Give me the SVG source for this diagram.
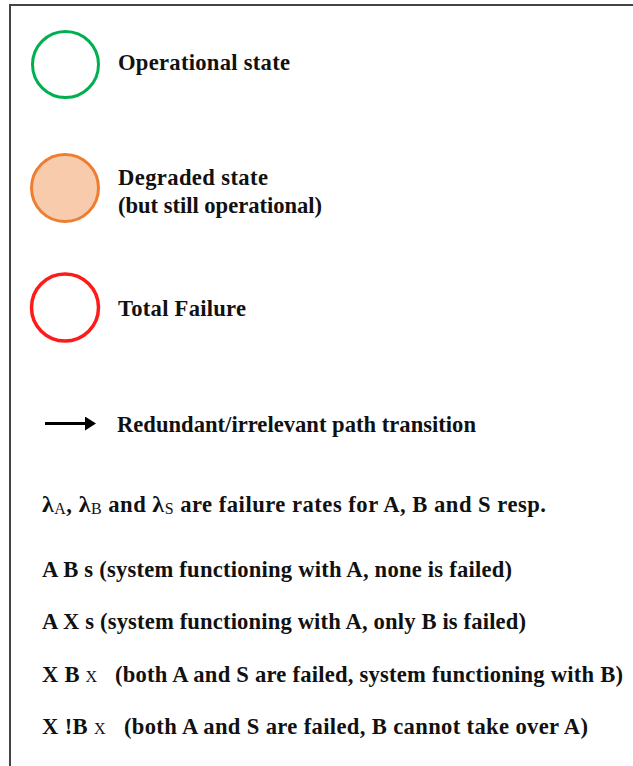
<svg xmlns="http://www.w3.org/2000/svg" width="633" height="766" viewBox="0 0 633 766">
  <style>
    .frame { fill: none; stroke: #444444; stroke-width: 2; }
    .state { stroke-width: 3; }
    .op { fill: #ffffff; stroke: #00B050; }
    .deg { fill: #F8CBAD; stroke: #ED7D31; }
    .fail { fill: #ffffff; stroke: #FF1A1A; stroke-width: 3.5; }
    .lbl { font-family: "Liberation Serif", "Times New Roman", serif; font-weight: bold; font-size: 22.6px; fill: #111111; }
    .sub { font-weight: normal; font-size: 16px; }
    .lam { font-size: 24px; }
  </style>
  <defs>
    <marker id="arrowHead" markerWidth="11" markerHeight="14" refX="9" refY="7" orient="auto" markerUnits="userSpaceOnUse">
      <path d="M0,0 L11,7 L0,14 Z" fill="#000000"/>
    </marker>
  </defs>

  <rect width="633" height="766" fill="#ffffff"/>
  <!-- outer frame: only the top and left edges fall inside the canvas -->
  <path class="frame" d="M10,775 V5 H640"/>

  <g id="legend-operational">
    <circle class="state op" cx="65.5" cy="64.5" r="33"/>
    <text class="lbl" x="118" y="70" textLength="172" lengthAdjust="spacing">Operational state</text>
  </g>

  <g id="legend-degraded">
    <circle class="state deg" cx="65" cy="188" r="33.5"/>
    <text class="lbl" x="118" y="185" textLength="150" lengthAdjust="spacing">Degraded state</text>
    <text class="lbl" x="118" y="213" textLength="204" lengthAdjust="spacing">(but still operational)</text>
  </g>

  <g id="legend-failure">
    <circle class="state fail" cx="65" cy="307.5" r="33.5"/>
    <text class="lbl" x="118" y="316" textLength="128" lengthAdjust="spacing">Total Failure</text>
  </g>

  <g id="connectors">
    <line x1="45" y1="423.5" x2="94" y2="423.5" stroke="#000000" stroke-width="3.2" marker-end="url(#arrowHead)"/>
  </g>
  <g id="legend-transition">
    <text class="lbl" x="117" y="432" textLength="359" lengthAdjust="spacing">Redundant/irrelevant path transition</text>
  </g>

  <g id="notes">
    <text class="lbl" x="42" y="512" textLength="504" lengthAdjust="spacing"><tspan class="lam">λ</tspan><tspan class="sub" dy="2">A</tspan><tspan dy="-2">, </tspan><tspan class="lam">λ</tspan><tspan class="sub" dy="2">B</tspan><tspan dy="-2"> and </tspan><tspan class="lam">λ</tspan><tspan class="sub" dy="2">S</tspan><tspan dy="-2"> are failure rates for A, B and S resp.</tspan></text>
    <text class="lbl" x="42" y="577" textLength="470" lengthAdjust="spacing">A B s (system functioning with A, none is failed)</text>
    <text class="lbl" x="42" y="629" textLength="484" lengthAdjust="spacing">A X s (system functioning with A, only B is failed)</text>
    <text class="lbl" x="42" y="682" textLength="581" lengthAdjust="spacing" xml:space="preserve">X B <tspan class="sub">X</tspan>   (both A and S are failed, system functioning with B)</text>
    <text class="lbl" x="42" y="734" textLength="546" lengthAdjust="spacing" xml:space="preserve">X !B <tspan class="sub">X</tspan>   (both A and S are failed, B cannot take over A)</text>
  </g>
</svg>
